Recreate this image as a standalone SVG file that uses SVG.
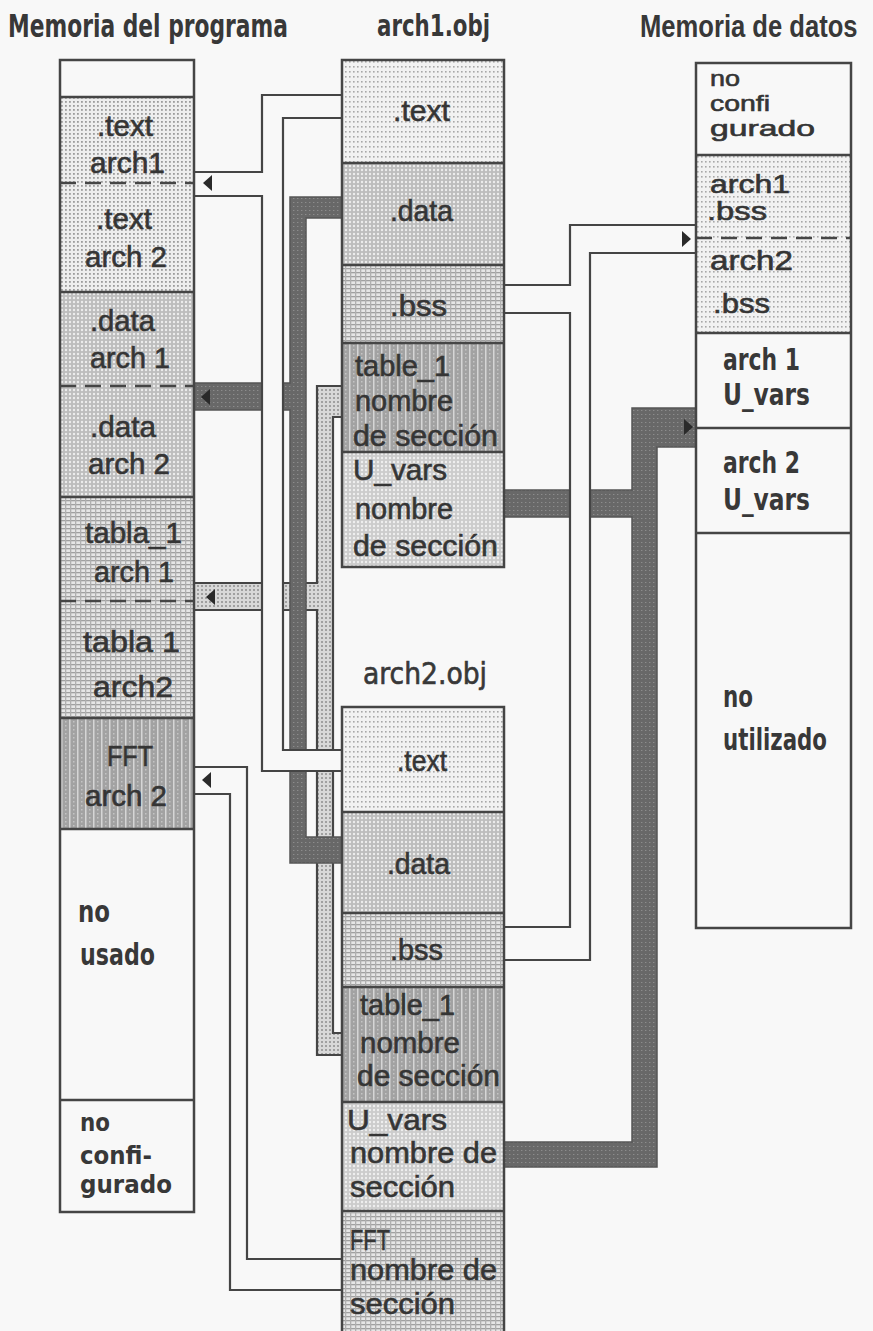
<svg xmlns="http://www.w3.org/2000/svg" width="873" height="1331" viewBox="0 0 873 1331">
<style>
.bx{stroke:#454545;stroke-width:2.5;fill:none}
.sep{stroke:#454545;stroke-width:2.5}
.dash{stroke:#454545;stroke-width:2.5;stroke-dasharray:16 9}
.pl{stroke:#454545;stroke-width:2.2;fill:none;stroke-linejoin:miter}
.lbl{font-family:"Liberation Sans",Arial,sans-serif;font-size:30px;fill:#353535;stroke:#353535;stroke-width:0.6}
.bc{font-family:"Liberation Sans Narrow","DejaVu Sans Condensed","Liberation Sans",Arial,sans-serif;font-weight:bold;fill:#383838}
.ttl{font-size:32px}
.arr{fill:#2a2a2a}
</style>
<defs>
<pattern id="pLight" width="4" height="4" patternUnits="userSpaceOnUse"><rect width="4" height="4" fill="#eeeeee"/><rect x="1" y="1" width="1.8" height="1.8" fill="#9c9c9c"/></pattern>
<pattern id="pText" width="4" height="5" patternUnits="userSpaceOnUse"><rect width="4" height="5" fill="#f2f2f2"/><rect x="1" y="1" width="1.6" height="1.6" fill="#a8a8a8"/></pattern>
<pattern id="pData" width="4" height="4" patternUnits="userSpaceOnUse"><rect width="4" height="4" fill="#bdbdbd"/><circle cx="2" cy="2" r="1.2" fill="#ededed"/></pattern>
<pattern id="pGrid" width="5" height="4" patternUnits="userSpaceOnUse"><rect width="5" height="4" fill="#e6e6e6"/><rect width="5" height="1.3" fill="#a0a0a0"/><rect width="1.3" height="4" fill="#b0b0b0"/></pattern>
<pattern id="pDark" width="8" height="4" patternUnits="userSpaceOnUse"><rect width="8" height="4" fill="#a2a2a2"/><rect x="5" width="1.5" height="4" fill="#d6d6d6"/><rect x="1" y="1" width="1.5" height="1.5" fill="#c4c4c4"/></pattern>
<pattern id="pPipe" width="4" height="4" patternUnits="userSpaceOnUse"><rect width="4" height="4" fill="#686868"/><rect x="1" y="2" width="1.4" height="1" fill="#8c8c8c"/></pattern>
<pattern id="pPipeL" width="4" height="4" patternUnits="userSpaceOnUse"><rect width="4" height="4" fill="#d8d8d8"/><circle cx="2" cy="2" r="1" fill="#8e8e8e"/></pattern>
<path id="arrL" d="M0,0 L9,-8 L9,8 Z"/>
<path id="arrR" d="M0,0 L-9,-8 L-9,8 Z"/>
</defs>
<rect width="873" height="1331" fill="#f8f8f8"/>

<g id="connectors">
  <g id="conn-tabla">
    <polygon points="342,386 317,386 317,583 194,583 194,610 317,610 317,1055 342,1055 342,1033 333,1033 333,417 342,417" fill="url(#pPipeL)"/>
    <polyline class="pl" points="342,386 317,386 317,583 194,583"/>
    <polyline class="pl" points="194,610 317,610 317,1055 342,1055"/>
    <polyline class="pl" points="342,417 333,417 333,1033 342,1033"/>
    <use href="#arrL" x="206" y="597" class="arr"/>
  </g>
  <g id="conn-data">
    <polygon points="342,197 290,197 290,383 194,383 194,410 290,410 290,863 342,863 342,837 306,837 306,218 342,218" fill="url(#pPipe)" stroke="#555" stroke-width="1.5"/>
    <use href="#arrL" x="201" y="397" class="arr"/>
  </g>
  <g id="conn-text">
    <polygon points="342,95 262,95 262,172 194,172 194,196 262,196 262,771 342,771 342,750 283,750 283,118 342,118" fill="#f8f8f8"/>
    <polyline class="pl" points="342,95 262,95 262,172 194,172"/>
    <polyline class="pl" points="194,196 262,196 262,771 342,771"/>
    <polyline class="pl" points="342,118 283,118 283,750 342,750"/>
    <use href="#arrL" x="203" y="183" class="arr"/>
  </g>
  <g id="conn-fft">
    <polygon points="194,767 247,767 247,1259 342,1259 342,1290 230,1290 230,794 194,794" fill="#f8f8f8"/>
    <polyline class="pl" points="194,767 247,767 247,1259 342,1259"/>
    <polyline class="pl" points="194,794 230,794 230,1290 342,1290"/>
    <use href="#arrL" x="202" y="780" class="arr"/>
  </g>
  <g id="conn-uvars">
    <polygon points="696,408 632,408 632,490 504,490 504,517 632,517 632,1142 504,1142 504,1167 657,1167 657,447 696,447" fill="url(#pPipe)" stroke="#555" stroke-width="1.5"/>
    <use href="#arrR" x="693" y="427" class="arr"/>
  </g>
  <g id="conn-bss">
    <polygon points="504,285 570,285 570,225 696,225 696,253 590,253 590,960 504,960 504,927 570,927 570,313 504,313" fill="#f8f8f8"/>
    <polyline class="pl" points="504,285 570,285 570,225 696,225"/>
    <polyline class="pl" points="696,253 590,253 590,960 504,960"/>
    <polyline class="pl" points="504,313 570,313 570,927 504,927"/>
    <use href="#arrR" x="691" y="239" class="arr"/>
  </g>
</g>

<g id="node-memoria-programa">
  <text class="bc ttl" x="8" y="37" textLength="280" lengthAdjust="spacingAndGlyphs">Memoria del programa</text>
  <rect x="60" y="60" width="134" height="37" fill="#f8f8f8"/>
  <rect x="60" y="97" width="134" height="195" fill="url(#pLight)"/>
  <rect x="60" y="292" width="134" height="205" fill="url(#pData)"/>
  <rect x="60" y="497" width="134" height="221" fill="url(#pGrid)"/>
  <rect x="60" y="718" width="134" height="111" fill="url(#pDark)"/>
  <rect x="60" y="829" width="134" height="383" fill="#f8f8f8"/>
  <rect class="bx" x="60" y="60" width="134" height="1152"/>
  <line class="sep" x1="60" y1="97" x2="194" y2="97"/>
  <line class="dash" x1="60" y1="183" x2="194" y2="183"/>
  <line class="sep" x1="60" y1="292" x2="194" y2="292"/>
  <line class="dash" x1="60" y1="386" x2="194" y2="386"/>
  <line class="sep" x1="60" y1="497" x2="194" y2="497"/>
  <line class="dash" x1="60" y1="601" x2="194" y2="601"/>
  <line class="sep" x1="60" y1="718" x2="194" y2="718"/>
  <line class="sep" x1="60" y1="829" x2="194" y2="829"/>
  <line class="sep" x1="60" y1="1100" x2="194" y2="1100"/>
  <text class="lbl" x="97" y="136" textLength="56" lengthAdjust="spacingAndGlyphs">.text</text>
  <text class="lbl" x="90" y="173" textLength="75" lengthAdjust="spacingAndGlyphs">arch1</text>
  <text class="lbl" x="96" y="229" textLength="56" lengthAdjust="spacingAndGlyphs">.text</text>
  <text class="lbl" x="85" y="267" textLength="82" lengthAdjust="spacingAndGlyphs">arch 2</text>
  <text class="lbl" x="90" y="331" textLength="65" lengthAdjust="spacingAndGlyphs">.data</text>
  <text class="lbl" x="90" y="368" textLength="80" lengthAdjust="spacingAndGlyphs">arch 1</text>
  <text class="lbl" x="90" y="437" textLength="66" lengthAdjust="spacingAndGlyphs">.data</text>
  <text class="lbl" x="88" y="474" textLength="82" lengthAdjust="spacingAndGlyphs">arch 2</text>
  <text class="lbl" x="85" y="543" textLength="97" lengthAdjust="spacingAndGlyphs">tabla_1</text>
  <text class="lbl" x="94" y="582" textLength="80" lengthAdjust="spacingAndGlyphs">arch 1</text>
  <text class="lbl" x="83" y="652" textLength="97" lengthAdjust="spacingAndGlyphs">tabla 1</text>
  <text class="lbl" x="93" y="697" textLength="80" lengthAdjust="spacingAndGlyphs">arch2</text>
  <text class="lbl" x="107" y="766" textLength="46" lengthAdjust="spacingAndGlyphs">FFT</text>
  <text class="lbl" x="85" y="806" textLength="82" lengthAdjust="spacingAndGlyphs">arch 2</text>
  <text class="bc" font-size="31" x="78" y="922" textLength="32" lengthAdjust="spacingAndGlyphs">no</text>
  <text class="bc" font-size="31" x="80" y="965" textLength="75" lengthAdjust="spacingAndGlyphs">usado</text>
  <text class="bc" font-size="25" x="80" y="1131" textLength="30" lengthAdjust="spacingAndGlyphs">no</text>
  <text class="bc" font-size="25" x="80" y="1164" textLength="72" lengthAdjust="spacingAndGlyphs">confi-</text>
  <text class="bc" font-size="25" x="80" y="1193" textLength="92" lengthAdjust="spacingAndGlyphs">gurado</text>
</g>

<g id="node-arch1-obj">
  <text class="bc" font-size="30" x="377" y="36" textLength="113" lengthAdjust="spacingAndGlyphs">arch1.obj</text>
  <rect x="342" y="60" width="162" height="103" fill="url(#pText)"/>
  <rect x="342" y="163" width="162" height="102" fill="url(#pData)"/>
  <rect x="342" y="265" width="162" height="78" fill="url(#pGrid)"/>
  <rect x="342" y="343" width="162" height="109" fill="url(#pDark)"/>
  <rect x="342" y="452" width="162" height="115" fill="url(#pData)" opacity="0.75"/>
  <rect class="bx" x="342" y="60" width="162" height="507"/>
  <line class="sep" x1="342" y1="163" x2="504" y2="163"/>
  <line class="sep" x1="342" y1="265" x2="504" y2="265"/>
  <line class="sep" x1="342" y1="343" x2="504" y2="343"/>
  <line class="sep" x1="342" y1="452" x2="504" y2="452"/>
  <text class="lbl" x="393" y="121" textLength="57" lengthAdjust="spacingAndGlyphs">.text</text>
  <text class="lbl" x="390" y="221" textLength="63" lengthAdjust="spacingAndGlyphs">.data</text>
  <text class="lbl" x="390" y="316" textLength="57" lengthAdjust="spacingAndGlyphs">.bss</text>
  <text class="lbl" x="355" y="376" textLength="95" lengthAdjust="spacingAndGlyphs">table_1</text>
  <text class="lbl" x="355" y="411" textLength="98" lengthAdjust="spacingAndGlyphs">nombre</text>
  <text class="lbl" x="353" y="446" textLength="145" lengthAdjust="spacingAndGlyphs">de sección</text>
  <text class="lbl" x="353" y="480" textLength="94" lengthAdjust="spacingAndGlyphs">U_vars</text>
  <text class="lbl" x="355" y="519" textLength="98" lengthAdjust="spacingAndGlyphs">nombre</text>
  <text class="lbl" x="353" y="556" textLength="145" lengthAdjust="spacingAndGlyphs">de sección</text>
</g>

<g id="node-arch2-obj">
  <text class="bc" font-size="30" x="363" y="684" textLength="124" lengthAdjust="spacingAndGlyphs" style="font-weight:normal;stroke:#383838;stroke-width:0.6">arch2.obj</text>
  <rect x="342" y="707" width="162" height="105" fill="url(#pText)"/>
  <rect x="342" y="812" width="162" height="101" fill="url(#pData)"/>
  <rect x="342" y="913" width="162" height="74" fill="url(#pGrid)"/>
  <rect x="342" y="987" width="162" height="115" fill="url(#pDark)"/>
  <rect x="342" y="1102" width="162" height="111" fill="url(#pData)" opacity="0.75"/>
  <rect x="342" y="1213" width="162" height="125" fill="url(#pGrid)"/>
  <rect class="bx" x="342" y="707" width="162" height="640"/>
  <line class="sep" x1="342" y1="812" x2="504" y2="812"/>
  <line class="sep" x1="342" y1="913" x2="504" y2="913"/>
  <line class="sep" x1="342" y1="987" x2="504" y2="987"/>
  <line class="sep" x1="342" y1="1102" x2="504" y2="1102"/>
  <line class="sep" x1="342" y1="1211" x2="504" y2="1211" stroke-width="5"/>
  <text class="lbl" x="397" y="771" textLength="50" lengthAdjust="spacingAndGlyphs">.text</text>
  <text class="lbl" x="387" y="874" textLength="63" lengthAdjust="spacingAndGlyphs">.data</text>
  <text class="lbl" x="390" y="960" textLength="53" lengthAdjust="spacingAndGlyphs">.bss</text>
  <text class="lbl" x="360" y="1015" textLength="95" lengthAdjust="spacingAndGlyphs">table_1</text>
  <text class="lbl" x="360" y="1053" textLength="100" lengthAdjust="spacingAndGlyphs">nombre</text>
  <text class="lbl" x="357" y="1086" textLength="143" lengthAdjust="spacingAndGlyphs">de sección</text>
  <text class="lbl" x="347" y="1130" textLength="100" lengthAdjust="spacingAndGlyphs">U_vars</text>
  <text class="lbl" x="350" y="1163" textLength="147" lengthAdjust="spacingAndGlyphs">nombre de</text>
  <text class="lbl" x="350" y="1197" textLength="105" lengthAdjust="spacingAndGlyphs">sección</text>
  <text class="lbl" x="350" y="1250" textLength="40" lengthAdjust="spacingAndGlyphs">FFT</text>
  <text class="lbl" x="350" y="1280" textLength="147" lengthAdjust="spacingAndGlyphs">nombre de</text>
  <text class="lbl" x="350" y="1314" textLength="105" lengthAdjust="spacingAndGlyphs">sección</text>
</g>

<g id="node-memoria-datos">
  <text transform="translate(640,37) scale(0.8,1)" style="font-family:'Liberation Sans',Arial,sans-serif;font-weight:bold;font-size:32px;fill:#383838">Memoria de datos</text>
  <rect x="696" y="63" width="155" height="92" fill="#f8f8f8"/>
  <rect x="696" y="155" width="155" height="178" fill="url(#pText)"/>
  <rect x="696" y="333" width="155" height="595" fill="#f8f8f8"/>
  <rect class="bx" x="696" y="63" width="155" height="865"/>
  <line class="sep" x1="696" y1="155" x2="851" y2="155"/>
  <line class="dash" x1="696" y1="238" x2="851" y2="238"/>
  <line class="sep" x1="696" y1="333" x2="851" y2="333"/>
  <line class="sep" x1="696" y1="428" x2="851" y2="428"/>
  <line class="sep" x1="696" y1="533" x2="851" y2="533"/>
  <text class="lbl" style="font-size:22px" x="710" y="86" textLength="30" lengthAdjust="spacingAndGlyphs">no</text>
  <text class="lbl" style="font-size:22px" x="710" y="111" textLength="60" lengthAdjust="spacingAndGlyphs">confi</text>
  <text class="lbl" style="font-size:22px" x="710" y="136" textLength="105" lengthAdjust="spacingAndGlyphs">gurado</text>
  <text class="lbl" style="font-size:26px" x="710" y="193" textLength="80" lengthAdjust="spacingAndGlyphs">arch1</text>
  <text class="lbl" style="font-size:26px" x="707" y="220" textLength="60" lengthAdjust="spacingAndGlyphs">.bss</text>
  <text class="lbl" style="font-size:28px" x="710" y="270" textLength="83" lengthAdjust="spacingAndGlyphs">arch2</text>
  <text class="lbl" style="font-size:28px" x="713" y="313" textLength="57" lengthAdjust="spacingAndGlyphs">.bss</text>
  <text class="bc" font-size="31" x="723" y="370" textLength="77" lengthAdjust="spacingAndGlyphs">arch 1</text>
  <text class="bc" font-size="31" x="723" y="405" textLength="87" lengthAdjust="spacingAndGlyphs">U_vars</text>
  <text class="bc" font-size="31" x="723" y="473" textLength="77" lengthAdjust="spacingAndGlyphs">arch 2</text>
  <text class="bc" font-size="31" x="723" y="510" textLength="87" lengthAdjust="spacingAndGlyphs">U_vars</text>
  <text class="bc" font-size="31" x="723" y="707" textLength="30" lengthAdjust="spacingAndGlyphs">no</text>
  <text class="bc" font-size="31" x="723" y="750" textLength="104" lengthAdjust="spacingAndGlyphs">utilizado</text>
</g>
</svg>
